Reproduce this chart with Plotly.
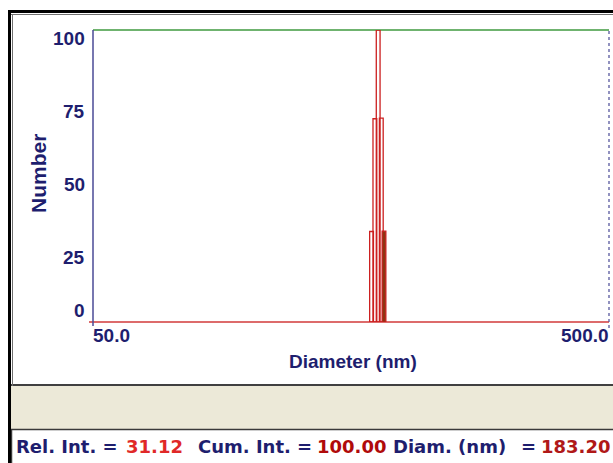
import numpy as np
import plotly.graph_objects as go

# Size distribution (number weighted)
diameters_nm = [173.3, 175.9, 178.5, 181.0, 183.2]
rel_intensity = [31.0, 69.6, 100.0, 69.8, 31.12]
cum_intensity = list(np.cumsum(rel_intensity) / np.sum(rel_intensity) * 100.0)

y_ticks = [0, 25, 50, 75, 100]
x_range = [50.0, 500.0]
x_tick_labels = ["50.0", "500.0"]

W, H = 613, 463
ML, MR, MT, MB = 93, 4, 30, 141
PW, PH = W - ML - MR, H - MT - MB

NAVY = "#1e1e6e"
RED = "#d23a3a"
BAR_RED = "#cc2020"
BROWN = "#8e3511"
GREEN = "#3f9a3f"
FONT = "Liberation Sans, Arial, sans-serif"
STATUS_FONT = "DejaVu Sans, Verdana, sans-serif"


def px_x(px):
    return (px - ML) / PW


def px_y(py):
    return (H - MB - py) / PH


half_w = 1.0085  # bar half-width as a multiplicative factor on the log axis

xs, ys = [], []
for d, v in zip(diameters_nm[:-1], rel_intensity[:-1]):
    lo, hi = d / half_w, d * half_w
    xs += [lo, lo, hi, hi, lo, None]
    ys += [0, v, v, 0, 0, None]

fig = go.Figure()
fig.add_trace(go.Scatter(x=xs, y=ys, mode="lines",
                         line=dict(color=BAR_RED, width=1.3),
                         hoverinfo="skip", showlegend=False))

# selected (last) channel shown filled
d, v = diameters_nm[-1], rel_intensity[-1]
lo, hi = d / half_w, d * half_w
fig.add_trace(go.Scatter(x=[lo, lo, hi, hi, lo], y=[0, v, v, 0, 0],
                         mode="lines", fill="toself", fillcolor=BROWN,
                         line=dict(color=BAR_RED, width=1.2),
                         hoverinfo="skip", showlegend=False))

shapes = []
# window furniture
shapes.append(dict(type="rect", xref="paper", yref="paper",
                   x0=px_x(11), x1=px_x(616), y0=px_y(386), y1=px_y(429),
                   fillcolor="#ece9d8", line=dict(width=0), layer="below"))
shapes.append(dict(type="rect", xref="paper", yref="paper",
                   x0=px_x(11.5), x1=px_x(616), y0=px_y(429.5), y1=px_y(470),
                   fillcolor="white", line=dict(color="#3a3a3a", width=1.5), layer="below"))
shapes.append(dict(type="line", xref="paper", yref="paper",
                   x0=px_x(11), x1=px_x(616), y0=px_y(385), y1=px_y(385),
                   line=dict(color="#404040", width=2), layer="below"))
shapes.append(dict(type="line", xref="paper", yref="paper",
                   x0=px_x(9.5), x1=px_x(9.5), y0=px_y(10), y1=px_y(470),
                   line=dict(color="black", width=3), layer="below"))
shapes.append(dict(type="line", xref="paper", yref="paper",
                   x0=px_x(12.5), x1=px_x(12.5), y0=px_y(14), y1=px_y(386),
                   line=dict(color="#707070", width=1), layer="below"))
shapes.append(dict(type="line", xref="paper", yref="paper",
                   x0=px_x(8), x1=px_x(616), y0=px_y(11.5), y1=px_y(11.5),
                   line=dict(color="black", width=3), layer="below"))
shapes.append(dict(type="line", xref="paper", yref="paper",
                   x0=px_x(11), x1=px_x(616), y0=px_y(14.5), y1=px_y(14.5),
                   line=dict(color="#707070", width=1), layer="below"))
# plot frame
shapes.append(dict(type="line", xref="paper", yref="paper",
                   x0=0, x1=1, y0=1, y1=1, line=dict(color=GREEN, width=1.5), layer="below"))
shapes.append(dict(type="line", xref="paper", yref="paper",
                   x0=px_x(89), x1=1, y0=0, y1=0, line=dict(color=RED, width=1.5), layer="below"))
shapes.append(dict(type="line", xref="paper", yref="paper",
                   x0=0, x1=0, y0=px_y(326), y1=1, line=dict(color="#4a4a96", width=1.5), layer="below"))
shapes.append(dict(type="line", xref="paper", yref="paper",
                   x0=1, x1=1, y0=px_y(328), y1=1,
                   line=dict(color="#4a4a96", width=1.2, dash="3px,3px"), layer="below"))

annotations = []
tick_font = dict(family=FONT, size=19, color=NAVY)
for t in y_ticks:
    annotations.append(dict(xref="paper", yref="y", x=0, y=t, text=f"<b>{t}</b>",
                            showarrow=False, xanchor="right", xshift=-6,
                            yanchor="bottom" if t == 0 else "top",
                            yshift=-1 if t == 0 else 4, font=tick_font))
annotations.append(dict(xref="x", yref="paper", x=np.log10(x_range[0]), y=0,
                        text=f"<b>{x_tick_labels[0]}</b>", showarrow=False,
                        xanchor="left", yanchor="top", yshift=-1, xshift=-2, font=tick_font))
annotations.append(dict(xref="x", yref="paper", x=np.log10(x_range[1]), y=0,
                        text=f"<b>{x_tick_labels[1]}</b>", showarrow=False,
                        xanchor="right", yanchor="top", yshift=-1, xshift=2, font=tick_font))
annotations.append(dict(xref="paper", yref="paper", x=px_x(353), y=px_y(361),
                        text="<b>Diameter (nm)</b>", showarrow=False,
                        xanchor="center", yanchor="middle",
                        font=dict(family=FONT, size=19, color=NAVY)))
annotations.append(dict(xref="paper", yref="paper", x=px_x(38), y=px_y(174),
                        text="<b>Number</b>", showarrow=False, textangle=-90,
                        xanchor="center", yanchor="middle",
                        font=dict(family=FONT, size=21, color=NAVY)))

# status line: label / value pieces at their column positions
status_parts = [
    ("Rel. Int. =", NAVY, 15),
    (f"{rel_intensity[-1]:.2f}", "#e02828", 125),
    ("Cum. Int. =", NAVY, 197),
    (f"{cum_intensity[-1]:.2f}", "#b00a0a", 316),
    ("Diam. (nm)", NAVY, 392),
    ("=", NAVY, 520),
    (f"{diameters_nm[-1]:.2f}", "#b01818", 540),
]
for txt, col, xpx in status_parts:
    annotations.append(dict(xref="paper", yref="paper", x=px_x(xpx), y=px_y(446),
                            text=f"<b>{txt}</b>", showarrow=False,
                            xanchor="left", yanchor="middle", xshift=-1,
                            font=dict(family=STATUS_FONT, size=18, color=col)))

fig.update_layout(
    width=W, height=H,
    margin=dict(l=ML, r=MR, t=MT, b=MB, pad=0),
    paper_bgcolor="white", plot_bgcolor="white",
    xaxis=dict(type="log", range=[np.log10(x_range[0]), np.log10(x_range[1])],
               showgrid=False, zeroline=False, showline=False, showticklabels=False,
               ticks="", fixedrange=True),
    yaxis=dict(range=[0, 100], showgrid=False, zeroline=False, showline=False,
               showticklabels=False, ticks="", fixedrange=True),
    shapes=shapes, annotations=annotations, showlegend=False,
)

fig.write_html("out.html")
